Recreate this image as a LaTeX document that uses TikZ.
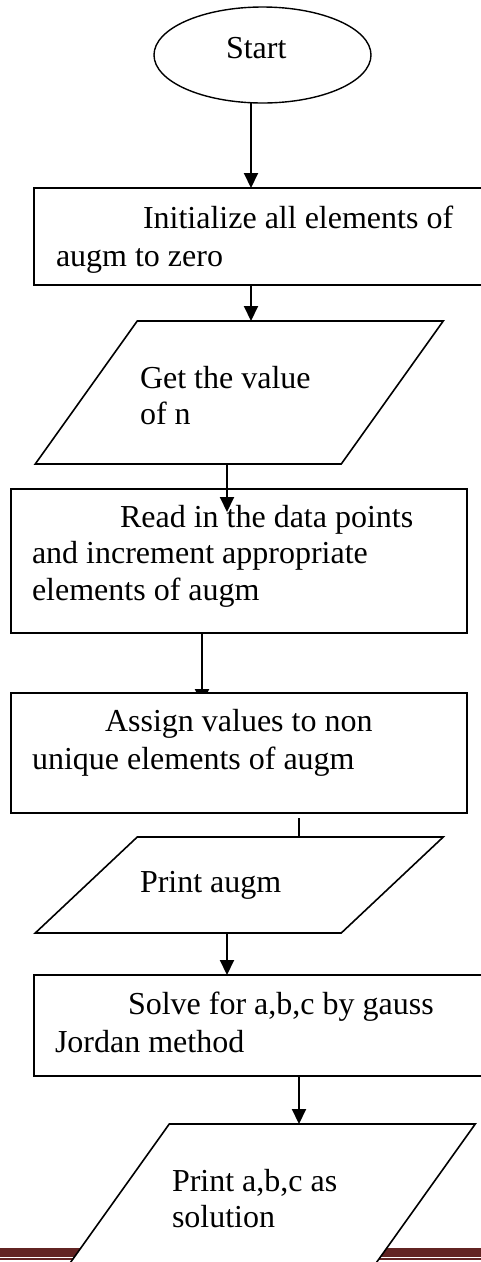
\documentclass[tikz,border=0pt]{standalone}
\usepackage{fontspec}
\setmainfont{Liberation Serif}
\usetikzlibrary{shapes.geometric,arrows.meta}
\definecolor{barred}{RGB}{98,36,35}
\tikzset{
  box/.style={draw, fill=white, line width=1.6pt, rectangle, inner sep=0pt, outer sep=0pt},
  slantbox/.style={rectangle, inner sep=0pt, outer sep=0pt},
  slantline/.style={draw, fill=white, line width=1.6pt, line join=miter},
  startshape/.style={draw, fill=white, ellipse, line width=1.4pt, inner sep=0pt, outer sep=0pt,
    minimum width=217pt, minimum height=96pt},
  label/.style={inner sep=0pt, outer sep=0pt, anchor=base west,
    font=\fontsize{32}{37}\selectfont},
  arr/.style={line width=2pt, -{Triangle[length=15pt,width=14pt]}},
  plain/.style={line width=2pt}
}
\begin{document}
\begin{tikzpicture}[x=1pt,y=-1pt]
\useasboundingbox (0,0) rectangle (481,1262);
\clip (0,0) rectangle (481,1262);

% x positions of the vertical connectors
\coordinate (xa) at (251,0);
\coordinate (xb) at (227,0);
\coordinate (xc) at (202,0);
\coordinate (xd) at (299,0);

% footer rule
\fill[barred] (0,1248.3) rectangle (481,1256.7);
\fill[barred] (0,1258.4) rectangle (481,1260.2);

% start
\node[startshape] (start) at (262.5,55) {};
\node[label] (tstart) at (226,58) {Start};

% initialise
\node[box, minimum width=460pt, minimum height=97pt, anchor=north west] (init) at (34,188) {};
\node[label] (tinit1) at (143,228) {Initialize all elements of};
\node[label] (tinit2) at (56,266) {augm to zero};

% read n
\node[slantbox, minimum width=306pt, minimum height=143pt] (getn) at (239.25,392.5) {};
\path[slantline] ([xshift=51pt]getn.north west) -- ([xshift=51pt]getn.north east)
  -- ([xshift=-51pt]getn.south east) -- ([xshift=-51pt]getn.south west) -- cycle;
\node[label] (tgetn1) at (140,388) {Get the value};
\node[label] (tgetn2) at (140,424) {of n};

% read data
\node[box, minimum width=456pt, minimum height=144pt, anchor=north west] (readd) at (11,489) {};
\node[label] (tread1) at (120,527) {Read in the data points};
\node[label] (tread2) at (32,563) {and increment appropriate};
\node[label] (tread3) at (32,600) {elements of augm};

% arrow between data box and assignment box, head under the box
\draw[arr] (readd.south -| xc) -- (202,704);

% assign
\node[box, minimum width=456pt, minimum height=120pt, anchor=north west] (assign) at (11,693) {};
\node[label] (tassign1) at (105,731) {Assign values to non};
\node[label] (tassign2) at (32,769) {unique elements of augm};

% print augm
\node[slantbox, minimum width=306pt, minimum height=96pt] (praugm) at (239.25,885) {};
\path[slantline] ([xshift=51pt]praugm.north west) -- ([xshift=51pt]praugm.north east)
  -- ([xshift=-51pt]praugm.south east) -- ([xshift=-51pt]praugm.south west) -- cycle;
\node[label] (tpraugm) at (140,892) {Print augm};

% solve
\node[box, minimum width=460pt, minimum height=101pt, anchor=north west] (solve) at (34,975) {};
\node[label] (tsolve1) at (128,1014) {Solve for a,b,c by gauss};
\node[label] (tsolve2) at (55,1052) {Jordan method};

% print solution
\node[slantbox, minimum width=306pt, minimum height=143pt] (prsol) at (271.25,1195.5) {};
\path[slantline] ([xshift=51pt]prsol.north west) -- ([xshift=51pt]prsol.north east)
  -- ([xshift=-51pt]prsol.south east) -- ([xshift=-51pt]prsol.south west) -- cycle;
\node[label] (tprsol1) at (172,1191) {Print a,b,c as};
\node[label] (tprsol2) at (172,1227) {solution};

% connectors
\draw[arr] (start.south -| xa) -- (init.north -| xa);
\draw[arr] (init.south -| xa) -- (getn.north -| xa);
\draw[arr] (getn.south -| xb) -- ([yshift=-23pt]readd.north -| xb);
\draw[plain] ([yshift=-5pt]assign.south -| xd) -- (praugm.north -| xd);
\draw[arr] (praugm.south -| xb) -- (solve.north -| xb);
\draw[arr] (solve.south -| xd) -- (prsol.north -| xd);
\end{tikzpicture}
\end{document}
